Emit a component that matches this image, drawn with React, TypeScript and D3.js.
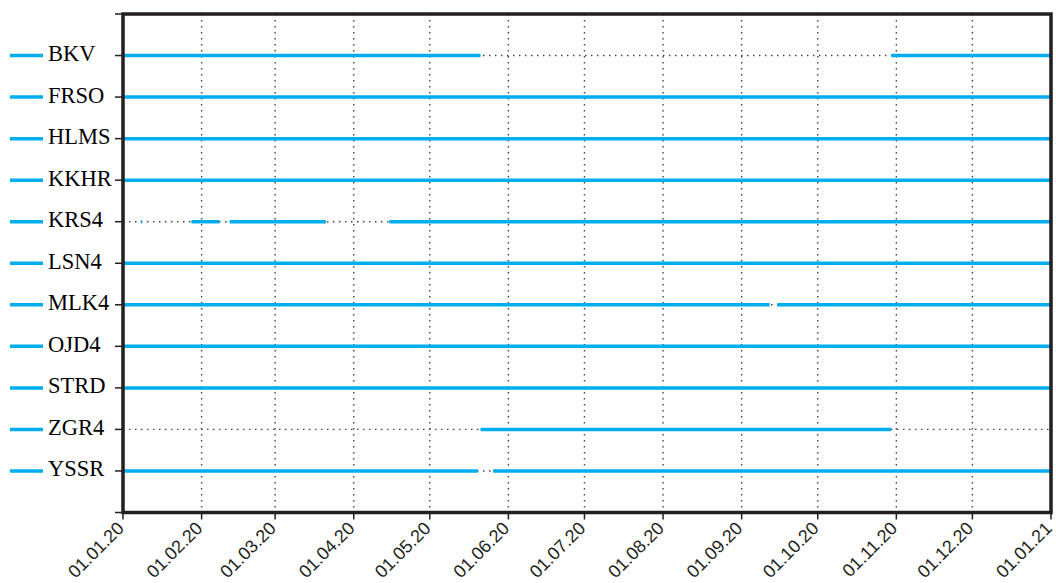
import React from "react";
import * as d3 from "d3";

const stations = ["BKV", "FRSO", "HLMS", "KKHR", "KRS4", "LSN4", "MLK4", "OJD4", "STRD", "ZGR4", "YSSR"];

// availability intervals per station [start, end]
const BKV = [["2020-01-01", "2020-05-21"], ["2020-10-30", "2021-01-01"]];
const FRSO = [["2020-01-01", "2021-01-01"]];
const HLMS = [["2020-01-01", "2021-01-01"]];
const KKHR = [["2020-01-01", "2021-01-01"]];
const KRS4 = [["2020-01-08", "2020-01-08T12:00"], ["2020-01-28", "2020-02-08"], ["2020-02-12", "2020-03-21"], ["2020-04-15", "2021-01-01"]];
const LSN4 = [["2020-01-01", "2021-01-01"]];
const MLK4 = [["2020-01-01", "2020-09-12"], ["2020-09-15", "2021-01-01"]];
const OJD4 = [["2020-01-01", "2021-01-01"]];
const STRD = [["2020-01-01", "2021-01-01"]];
const ZGR4 = [["2020-05-21", "2020-10-30"]];
const YSSR = [["2020-01-01", "2020-05-20"], ["2020-05-26", "2021-01-01"]];

const intervals = [BKV, FRSO, HLMS, KKHR, KRS4, LSN4, MLK4, OJD4, STRD, ZGR4, YSSR];

const tickDates = ["2020-01-01", "2020-02-01", "2020-03-01", "2020-04-01", "2020-05-01", "2020-06-01", "2020-07-01", "2020-08-01", "2020-09-01", "2020-10-01", "2020-11-01", "2020-12-01", "2021-01-01"];
const tickLabels = ["01.01.20", "01.02.20", "01.03.20", "01.04.20", "01.05.20", "01.06.20", "01.07.20", "01.08.20", "01.09.20", "01.10.20", "01.11.20", "01.12.20", "01.01.21"];

const BLUE = "#00aeef";
const DARK = "#231f20";

export default function App() {
  const W = 1056, H = 583;
  const left = 123, right = 1051, top = 14, bottom = 512.5;
  const parse = (s: string) => new Date(s.length > 10 ? s : s + "T00:00");
  const x = d3.scaleTime().domain([parse("2020-01-01"), parse("2021-01-01")]).range([left, right]);
  const y = d3.scaleLinear().domain([0, stations.length + 1]).range([top, bottom]);
  const yTicks = d3.range(0, stations.length + 2);

  return (
    <svg width={W} height={H} style={{ position: "absolute", left: 0, top: 0, background: "#fff" }}>
      {/* vertical grid */}
      {tickDates.map((d, i) => (
        <line key={"g" + i} x1={x(parse(d))} x2={x(parse(d))} y1={top} y2={bottom}
          stroke="#444" strokeWidth={1.4} strokeDasharray="1.5 4.5" />
      ))}
      {/* horizontal dotted rows */}
      {stations.map((s, i) => (
        <line key={"h" + s} x1={left} x2={right} y1={y(i + 1)} y2={y(i + 1)}
          stroke="#444" strokeWidth={1.4} strokeDasharray="1.5 4.5" />
      ))}
      {/* data segments */}
      {stations.map((s, i) => (
        <g key={"d" + s}>
          {intervals[i].map((iv, j) => (
            <line key={j} x1={x(parse(iv[0]))} x2={x(parse(iv[1]))} y1={y(i + 1)} y2={y(i + 1)}
              stroke={BLUE} strokeWidth={3.5} />
          ))}
        </g>
      ))}
      {/* frame */}
      <rect x={left} y={top} width={right - left} height={bottom - top} fill="none" stroke={DARK} strokeWidth={3.5} />
      {/* left ticks */}
      {yTicks.map((t) => (
        <line key={"yt" + t} x1={left - 8} x2={left} y1={y(t)} y2={y(t)} stroke={DARK} strokeWidth={1.5} />
      ))}
      {/* bottom ticks and labels */}
      {tickDates.map((d, i) => {
        const xx = x(parse(d));
        return (
          <g key={"xt" + i}>
            <line x1={xx} x2={xx} y1={bottom} y2={bottom + 7} stroke={DARK} strokeWidth={1.5} />
            <text transform={`translate(${xx + 2},${bottom + 17}) rotate(-45)`} textAnchor="end"
              fontFamily="Liberation Sans, Arial, sans-serif" fontSize={18} fill={DARK}>{tickLabels[i]}</text>
          </g>
        );
      })}
      {/* legend labels */}
      {stations.map((s, i) => (
        <g key={"l" + s}>
          <line x1={10} x2={43} y1={y(i + 1)} y2={y(i + 1)} stroke={BLUE} strokeWidth={3.5} />
          <text x={48} y={y(i + 1) + 5.5} fontFamily="Liberation Serif, Times New Roman, serif" fontSize={22.5} fill="#000">{s}</text>
        </g>
      ))}
    </svg>
  );
}
